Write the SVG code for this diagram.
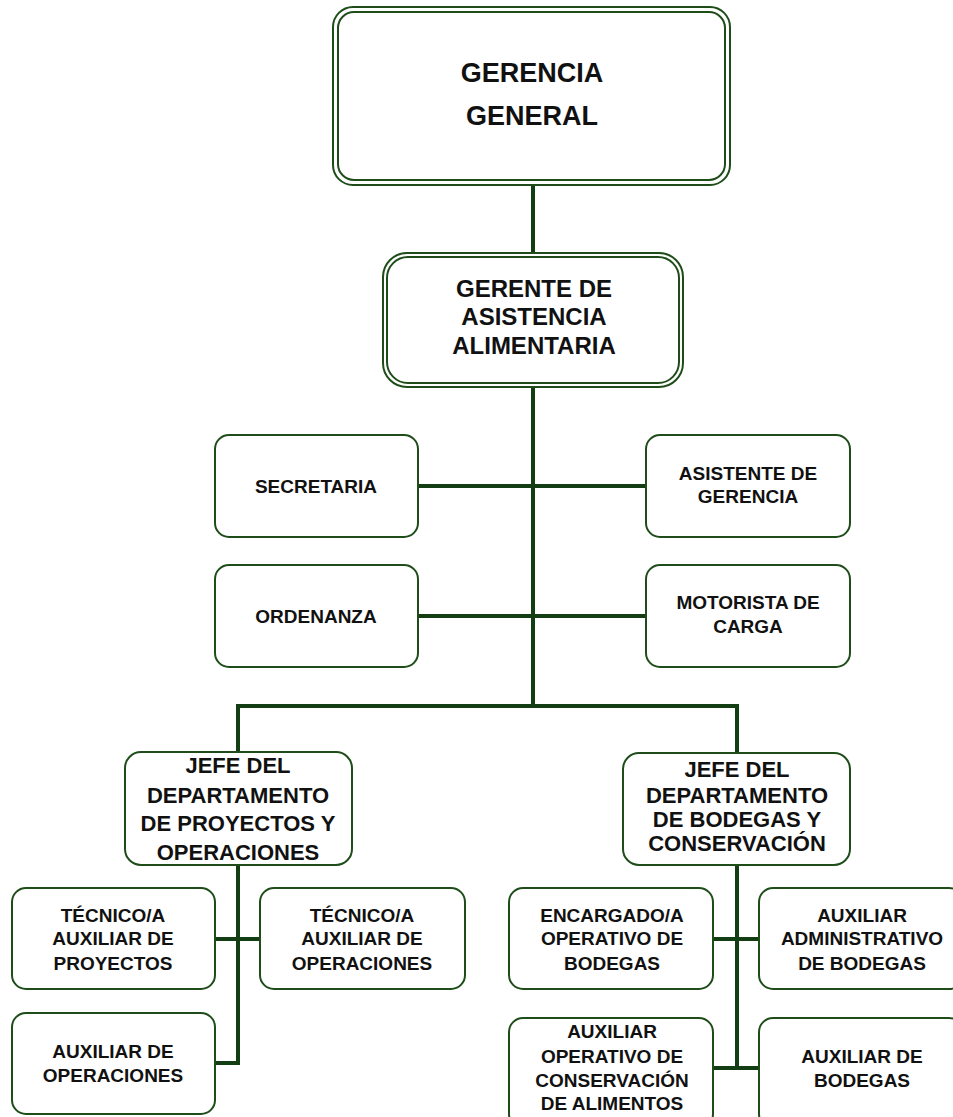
<svg xmlns="http://www.w3.org/2000/svg" width="953" height="1117" viewBox="0 0 953 1117">
<style>
.box{fill:#fff;stroke:#1e4d1a;stroke-width:2}
.conn{stroke:#133d12;stroke-width:4;fill:none}
text{font-family:"Liberation Sans",Arial,sans-serif;font-weight:bold;fill:#111;text-anchor:middle}
.t1{font-size:27px}
.t2{font-size:24px}
.t3{font-size:22px}
.t4{font-size:19px}
</style>
<rect width="953" height="1117" fill="#fff"/>
<g id="connectors">
<path class="conn" d="M533 185V258"/>
<path class="conn" d="M533 387V706"/>
<path class="conn" d="M418 486H646"/>
<path class="conn" d="M418 616H646"/>
<path class="conn" d="M238 752V706H737V753"/>
<path class="conn" d="M238 865V1063H215"/>
<path class="conn" d="M215 939H260"/>
<path class="conn" d="M737 865V1068"/>
<path class="conn" d="M713 939H759"/>
<path class="conn" d="M713 1068H759"/>
</g>
<g id="gerencia-general">
<rect class="box" x="333" y="7" width="397" height="178" rx="20"/>
<rect class="box" x="338" y="12" width="387" height="168" rx="16"/>
<text class="t1" x="532" y="82">GERENCIA</text>
<text class="t1" x="532" y="125">GENERAL</text>
</g>
<g id="gerente-asistencia">
<rect class="box" x="383" y="253" width="300" height="134" rx="24"/>
<rect class="box" x="387" y="257" width="292" height="126" rx="21"/>
<text class="t2" x="534" y="297">GERENTE DE</text>
<text class="t2" x="534" y="325">ASISTENCIA</text>
<text class="t2" x="534" y="354">ALIMENTARIA</text>
</g>
<g id="secretaria">
<rect class="box" x="215" y="435" width="203" height="102" rx="14"/>
<text class="t4" x="316" y="493">SECRETARIA</text>
</g>
<g id="asistente-gerencia">
<rect class="box" x="646" y="435" width="204" height="102" rx="14"/>
<text class="t4" x="748" y="480">ASISTENTE DE</text>
<text class="t4" x="748" y="503">GERENCIA</text>
</g>
<g id="ordenanza">
<rect class="box" x="215" y="565" width="203" height="102" rx="14"/>
<text class="t4" x="316" y="623">ORDENANZA</text>
</g>
<g id="motorista">
<rect class="box" x="646" y="565" width="204" height="102" rx="14"/>
<text class="t4" x="748" y="609">MOTORISTA DE</text>
<text class="t4" x="748" y="633">CARGA</text>
</g>
<g id="jefe-proyectos">
<rect class="box" x="125" y="752" width="227" height="113" rx="16"/>
<text class="t3" x="238" y="773">JEFE DEL</text>
<text class="t3" x="238" y="803">DEPARTAMENTO</text>
<text class="t3" x="238" y="831">DE PROYECTOS Y</text>
<text class="t3" x="238" y="860">OPERACIONES</text>
</g>
<g id="jefe-bodegas">
<rect class="box" x="623" y="753" width="227" height="112" rx="16"/>
<text class="t3" x="737" y="777">JEFE DEL</text>
<text class="t3" x="737" y="803">DEPARTAMENTO</text>
<text class="t3" x="737" y="827">DE BODEGAS Y</text>
<text class="t3" x="737" y="851">CONSERVACIÓN</text>
</g>
<g id="tecnico-proyectos">
<rect class="box" x="12" y="888" width="203" height="101" rx="14"/>
<text class="t4" x="113" y="922">TÉCNICO/A</text>
<text class="t4" x="113" y="945">AUXILIAR DE</text>
<text class="t4" x="113" y="970">PROYECTOS</text>
</g>
<g id="tecnico-operaciones">
<rect class="box" x="260" y="888" width="205" height="101" rx="14"/>
<text class="t4" x="362" y="922">TÉCNICO/A</text>
<text class="t4" x="362" y="945">AUXILIAR DE</text>
<text class="t4" x="362" y="970">OPERACIONES</text>
</g>
<g id="auxiliar-operaciones">
<rect class="box" x="12" y="1013" width="203" height="101" rx="14"/>
<text class="t4" x="113" y="1058">AUXILIAR DE</text>
<text class="t4" x="113" y="1082">OPERACIONES</text>
</g>
<g id="encargado-bodegas">
<rect class="box" x="509" y="888" width="204" height="101" rx="14"/>
<text class="t4" x="612" y="922">ENCARGADO/A</text>
<text class="t4" x="612" y="945">OPERATIVO DE</text>
<text class="t4" x="612" y="970">BODEGAS</text>
</g>
<g id="auxiliar-administrativo">
<rect class="box" x="759" y="888" width="204" height="101" rx="14"/>
<text class="t4" x="862" y="922">AUXILIAR</text>
<text class="t4" x="862" y="945">ADMINISTRATIVO</text>
<text class="t4" x="862" y="970">DE BODEGAS</text>
</g>
<g id="auxiliar-conservacion">
<rect class="box" x="509" y="1018" width="204" height="110" rx="14"/>
<text class="t4" x="612" y="1038">AUXILIAR</text>
<text class="t4" x="612" y="1063">OPERATIVO DE</text>
<text class="t4" x="612" y="1087">CONSERVACIÓN</text>
<text class="t4" x="612" y="1110">DE ALIMENTOS</text>
</g>
<g id="auxiliar-bodegas">
<rect class="box" x="759" y="1018" width="204" height="110" rx="14"/>
<text class="t4" x="862" y="1063">AUXILIAR DE</text>
<text class="t4" x="862" y="1087">BODEGAS</text>
</g>
</svg>
